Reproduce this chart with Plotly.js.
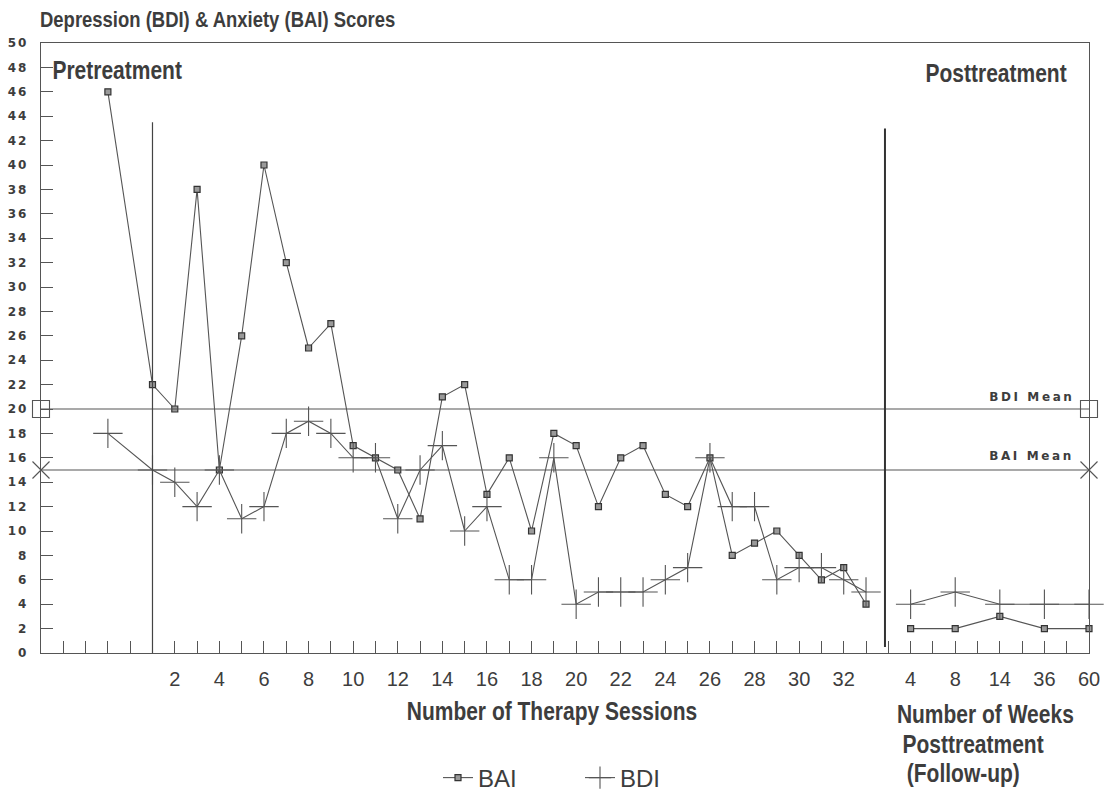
<!DOCTYPE html>
<html>
<head>
<meta charset="utf-8">
<script src="https://cdn.plot.ly/plotly-3.0.1.min.js"></script>
<style>
  html, body { margin: 0; padding: 0; background: #fff; }
  #chart { width: 1114px; height: 792px; }
  .ytick text { letter-spacing: 2px; }
</style>
</head>
<body>
<div id="chart"></div>
<script>
// Scores per session (1..33), one pretreatment assessment, and follow-up weeks
const sessions = [1, 2, 3, 4, 5, 6, 7, 8, 9, 10, 11, 12, 13, 14, 15, 16, 17,
                  18, 19, 20, 21, 22, 23, 24, 25, 26, 27, 28, 29, 30, 31, 32, 33];
const baiPretreatment = 46;
const bdiPretreatment = 18;
const baiSessions = [22, 20, 38, 15, 26, 40, 32, 25, 27, 17, 16, 15, 11, 21, 22, 13, 16,
                     10, 18, 17, 12, 16, 17, 13, 12, 16, 8, 9, 10, 8, 6, 7, 4];
const bdiSessions = [15, 14, 12, 15, 11, 12, 18, 19, 18, 16, 16, 11, 15, 17, 10, 12, 6,
                     6, 16, 4, 5, 5, 5, 6, 7, 16, 12, 12, 6, 7, 7, 6, 5];
const followUpWeeks = [4, 8, 14, 36, 60];
const baiFollowUp = [2, 2, 3, 2, 2];
const bdiFollowUp = [4, 5, 4, 4, 4];
const bdiMean = 20;
const baiMean = 15;
const sessionTickLabels = [2, 4, 6, 8, 10, 12, 14, 16, 18, 20, 22, 24, 26, 28, 30, 32];

// Slot layout on the shared x axis: pretreatment, sessions, then follow-up
const PRE_SLOT = 3;
const sessionSlot = n => n + 4;
const followSlot = i => 39 + 2 * i;
const LAST_SLOT = 47;
const POST_DIVIDER = 37.85;

const ink = '#3d3d3d';
const lineCol = '#555';
const heading = '"Liberation Sans", Arial, sans-serif';
const CONDENSE = 0.84;   // horizontal squeeze applied to the bold headings

function seriesXY(pre, sess, follow) {
  const x = [PRE_SLOT], y = [pre];
  sessions.forEach((n, i) => { x.push(sessionSlot(n)); y.push(sess[i]); });
  x.push(null); y.push(null);            // break before follow-up
  followUpWeeks.forEach((w, i) => { x.push(followSlot(i)); y.push(follow[i]); });
  return { x, y };
}

const bai = seriesXY(baiPretreatment, baiSessions, baiFollowUp);
const bdi = seriesXY(bdiPretreatment, bdiSessions, bdiFollowUp);

const traces = [
  {
    name: 'BAI', x: bai.x, y: bai.y, mode: 'lines+markers', cliponaxis: false,
    connectgaps: false,
    line: { color: lineCol, width: 1.1 },
    marker: { symbol: 'square', size: 6, color: '#9a9a9a', line: { color: '#333', width: 1.2 } }
  },
  {
    name: 'BDI', x: bdi.x, y: bdi.y, mode: 'lines+markers', cliponaxis: false,
    connectgaps: false,
    line: { color: lineCol, width: 1.1 },
    marker: { symbol: 'cross-thin-open', size: 21, color: lineCol, line: { color: lineCol, width: 1.1 } }
  },
  {
    name: 'BDI Mean', x: [0, LAST_SLOT], y: [bdiMean, bdiMean], mode: 'lines+markers',
    showlegend: false, cliponaxis: false,
    line: { color: lineCol, width: 1.1 },
    marker: { symbol: 'square-open', size: 17, color: lineCol, line: { width: 1.1 } }
  },
  {
    name: 'BAI Mean', x: [0, LAST_SLOT], y: [baiMean, baiMean], mode: 'lines+markers',
    showlegend: false, cliponaxis: false,
    line: { color: lineCol, width: 1.1 },
    marker: { symbol: 'x-thin-open', size: 17, color: lineCol, line: { color: lineCol, width: 1.1 } }
  }
];

const tickVals = sessionTickLabels.map(sessionSlot)
  .concat(followUpWeeks.map((w, i) => followSlot(i)));
const tickText = sessionTickLabels.map(String).concat(followUpWeeks.map(String));

const L = 41, R = 1089, T = 43, B = 653;
const px = v => (v - L) / (R - L);
const py = v => (B - v) / (B - T);

const headFont = size => ({ family: heading, size, color: ink, weight: 700 });
const heads = [
  ['Pretreatment', 117, 70, 25],
  ['Posttreatment', 996, 73, 25],
  ['Number of Therapy Sessions', 552, 711, 25],
  ['Number of Weeks', 985, 714, 25],
  ['Posttreatment', 973, 744, 25],
  ['(Follow-up)', 963, 773, 25]
];

const layout = {
  width: 1114, height: 792,
  margin: { l: L, r: 1114 - R, t: T, b: 792 - B, autoexpand: false },
  paper_bgcolor: '#fff', plot_bgcolor: '#fff',
  showlegend: true,
  title: {
    text: 'Depression (BDI) & Anxiety (BAI) Scores',
    x: 40 / 1114, xanchor: 'left', xref: 'container',
    y: 1 - 19 / 792, yanchor: 'middle', yref: 'container',
    font: headFont(22)
  },
  xaxis: {
    range: [0, LAST_SLOT], showgrid: false, zeroline: false,
    showline: true, mirror: true, linecolor: lineCol, linewidth: 1.2,
    tickmode: 'array', tickvals: tickVals, ticktext: tickText,
    ticks: 'inside', ticklen: 12, tickcolor: lineCol, tickwidth: 1,
    ticklabelstandoff: 8,
    tickfont: { family: '"Liberation Sans", Arial, sans-serif', size: 20, color: ink },
    minor: { dtick: 1, tick0: 0, ticks: 'inside', ticklen: 12, tickcolor: lineCol, tickwidth: 1 }
  },
  yaxis: {
    range: [0, 50], showgrid: false, zeroline: false,
    showline: true, mirror: true, linecolor: lineCol, linewidth: 1.2,
    tickmode: 'linear', tick0: 0, dtick: 2,
    ticks: 'inside', ticklen: 12, tickcolor: lineCol, tickwidth: 1,
    ticklabelstandoff: 9,
    tickfont: { family: '"DejaVu Sans", sans-serif', size: 12, color: ink, weight: 700 }
  },
  legend: {
    orientation: 'h', x: px(438), xanchor: 'left', y: py(778), yanchor: 'middle',
    font: { family: '"Liberation Sans", Arial, sans-serif', size: 24, color: ink },
    entrywidth: 97, entrywidthmode: 'pixels', bgcolor: 'rgba(0,0,0,0)'
  },
  shapes: [
    { type: 'line', xref: 'x', yref: 'y', x0: sessionSlot(1), x1: sessionSlot(1), y0: 0, y1: 43.5,
      line: { color: '#444', width: 1.2 } },
    { type: 'line', xref: 'x', yref: 'y', x0: POST_DIVIDER, x1: POST_DIVIDER, y0: 0.5, y1: 43,
      line: { color: '#333', width: 2 } }
  ],
  annotations: heads.map(([text, cx, cy, size]) => ({
    text, xref: 'paper', yref: 'paper', x: px(cx), y: py(cy),
    xanchor: 'center', yanchor: 'middle', showarrow: false, font: headFont(size)
  })).concat([
    { text: 'BDI Mean', xref: 'paper', yref: 'y', x: px(1076), y: bdiMean, yshift: 12,
      xanchor: 'right', yanchor: 'middle', align: 'right', showarrow: false,
      font: { family: '"DejaVu Sans", sans-serif', size: 12, color: ink, weight: 700 } },
    { text: 'BAI Mean', xref: 'paper', yref: 'y', x: px(1076), y: baiMean, yshift: 14,
      xanchor: 'right', yanchor: 'middle', align: 'right', showarrow: false,
      font: { family: '"DejaVu Sans", sans-serif', size: 12, color: ink, weight: 700 } }
  ])
};

Plotly.newPlot('chart', traces, layout, { staticPlot: true }).then(() => {
  const headTexts = new Set(heads.map(h => h[0]));
  document.querySelectorAll('.annotation-text').forEach(el => {
    const t = el.textContent;
    if (t === 'BDI Mean' || t === 'BAI Mean') {
      el.style.letterSpacing = '2.6px';
    } else if (headTexts.has(t)) {
      // condensed look for the bold headings, squeezed about their centre
      el.style.transformBox = 'fill-box';
      el.style.transformOrigin = 'center';
      el.style.transform = `scaleX(${CONDENSE})`;
    }
  });
  document.querySelectorAll('.gtitle').forEach(el => {
    el.style.transformBox = 'fill-box';
    el.style.transformOrigin = 'left center';
    el.style.transform = `scaleX(${CONDENSE})`;
  });
});
</script>
</body>
</html>
